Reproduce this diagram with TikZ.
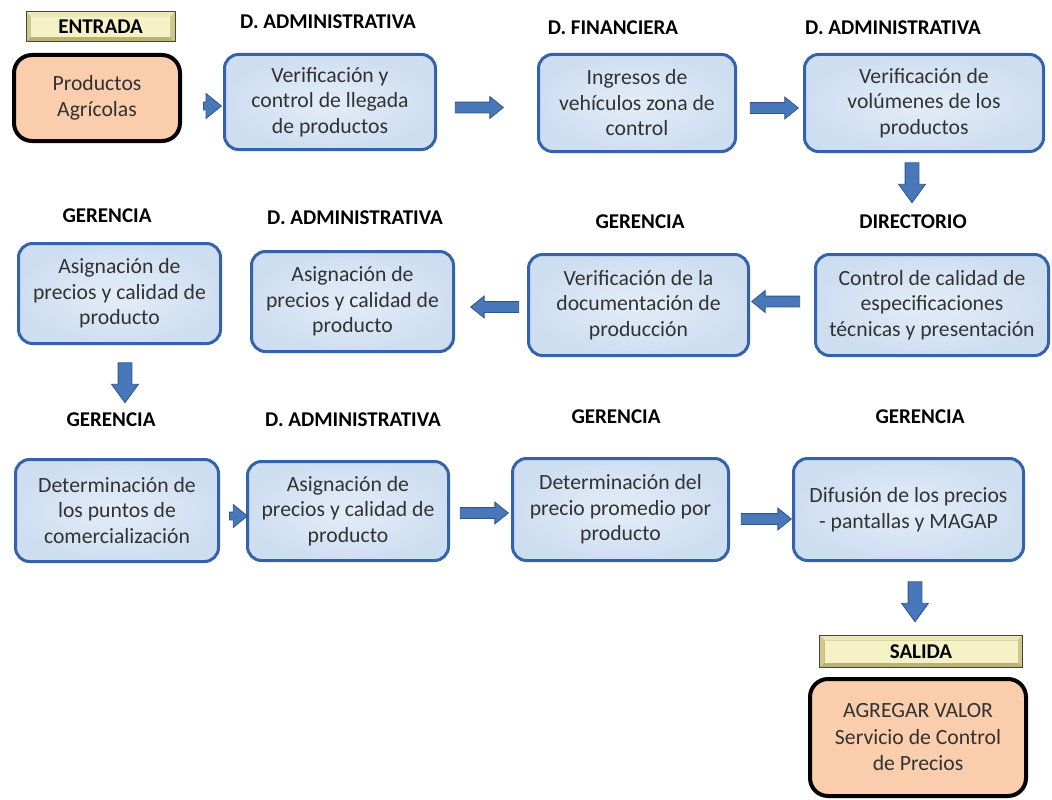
\documentclass[tikz,border=0pt]{standalone}
\usepackage{fontspec}
\setmainfont{Carlito}
\usetikzlibrary{shapes.arrows}

\definecolor{boxline}{RGB}{52,98,172}
\definecolor{boxin}{RGB}{228,237,248}
\definecolor{boxout}{RGB}{206,222,241}
\definecolor{ioorange}{RGB}{250,205,172}
\definecolor{arrowfill}{RGB}{72,120,186}
\definecolor{arrowline}{RGB}{48,84,136}
\definecolor{tagline}{RGB}{70,70,60}
\definecolor{tagface}{RGB}{246,242,200}
\definecolor{tagtop}{RGB}{236,232,182}
\definecolor{tagside}{RGB}{208,200,138}
\definecolor{tagbot}{RGB}{186,178,116}
\definecolor{bodytext}{RGB}{50,50,50}

\begin{document}
\begin{tikzpicture}[x=1pt,y=-1pt,
  proc/.style={draw=boxline, line width=3pt, rounded corners=14pt,
    inner color=boxin, outer color=boxout, align=center, text=bodytext,
    inner sep=0pt, font=\fontsize{21.7}{25.5}\selectfont},
  io/.style={draw=black, line width=4pt, rounded corners=18pt,
    fill=ioorange, align=center, text=bodytext, inner sep=0pt,
    font=\fontsize{21.7}{26.5}\selectfont},
  % bevelled label: flat face inset by 5pt, lighter top edge, darker sides and bottom
  tag/.style={draw=tagline, line width=1pt, fill=tagbot, inner sep=0pt,
    font=\bfseries\fontsize{21}{22}\selectfont,
    path picture={
      \path (path picture bounding box.north west) coordinate (tNW)
            (path picture bounding box.north east) coordinate (tNE)
            (path picture bounding box.south west) coordinate (tSW)
            (path picture bounding box.south east) coordinate (tSE);
      \fill[tagtop] (tNW) -- (tNE) -- ([shift={(-5pt,-5pt)}]tNE) -- ([shift={(5pt,-5pt)}]tNW) -- cycle;
      \fill[tagside] (tNW) -- ([shift={(5pt,-5pt)}]tNW) -- ([shift={(5pt,5pt)}]tSW) -- (tSW) -- cycle;
      \fill[tagside] (tNE) -- ([shift={(-5pt,-5pt)}]tNE) -- ([shift={(-5pt,5pt)}]tSE) -- (tSE) -- cycle;
      \fill[tagface] ([shift={(5pt,-5pt)}]tNW) rectangle ([shift={(-5pt,5pt)}]tSE);
    }},
  dept/.style={font=\bfseries\fontsize{21}{22}\selectfont},
  % block arrow: shaft width = 2 * inner ysep, empty text
  flow/.style={single arrow, draw=arrowline, fill=arrowfill, line width=0.8pt,
    inner xsep=0pt, text width=0pt},
  flowh/.style={flow, inner ysep=5pt, single arrow head extend=5.5pt,
    single arrow tip angle=78},
  flowv/.style={flow, inner ysep=6.5pt, single arrow head extend=6.5pt,
    single arrow tip angle=72, rotate=-90},
]
\useasboundingbox (0,0) rectangle (1052,800);

% ---- input ----
\node[tag, minimum width=149pt, minimum height=30pt] (entrada) at (100.5,27) {ENTRADA};
\node[io, minimum width=166pt, minimum height=86pt] (in) at (97,98) {Productos\\Agrícolas};

% ---- first row ----
\node[dept] (h1) at (328,22) {D. ADMINISTRATIVA};
\node[proc, minimum width=211pt, minimum height=95pt] (b1) at (330,102)
  {Verificación y\\control de llegada\\de productos};
\node[dept] (h2) at (613,28) {D. FINANCIERA};
\node[proc, minimum width=197pt, minimum height=97pt] (b2) at (637,103)
  {Ingresos de\\vehículos zona de\\control};
\node[dept] (h3) at (893,28) {D. ADMINISTRATIVA};
\node[proc, minimum width=239pt, minimum height=97pt] (b3) at (924,103)
  {Verificación de\\volúmenes de los\\productos};

% ---- second row ----
\node[dept] (h4) at (913,222) {DIRECTORIO};
\node[proc, minimum width=233pt, minimum height=101pt] (b4) at (932,305)
  {Control de calidad de\\especificaciones\\técnicas y presentación};
\node[dept] (h5) at (640,222) {GERENCIA};
\node[proc, minimum width=220pt, minimum height=101pt] (b5) at (638.5,305)
  {Verificación de la\\documentación de\\producción};
\node[dept] (h6) at (355,218) {D. ADMINISTRATIVA};
\node[proc, minimum width=202pt, minimum height=100pt] (b6) at (352.5,301.5)
  {Asignación de\\precios y calidad de\\producto};
\node[dept] (h7) at (107,216) {GERENCIA};
\node[proc, minimum width=202pt, minimum height=100pt] (b7) at (119.5,293.5)
  {Asignación de\\precios y calidad de\\producto};

% ---- third row ----
\node[dept] (h8) at (111,420) {GERENCIA};
\node[proc, minimum width=203pt, minimum height=102pt] (b8) at (117,510.5)
  {Determinación de\\los puntos de\\comercialización};
\node[dept] (h9) at (353,420) {D. ADMINISTRATIVA};
\node[proc, minimum width=201pt, minimum height=99pt] (b9) at (348,511)
  {Asignación de\\precios y calidad de\\producto};
\node[dept] (h10) at (616,417) {GERENCIA};
\node[proc, minimum width=216pt, minimum height=102pt] (b10) at (620.5,509.5)
  {Determinación del\\precio promedio por\\producto};
\node[dept] (h11) at (920,417) {GERENCIA};
\node[proc, minimum width=230pt, minimum height=102pt] (b11) at (908.5,509.5)
  {Difusión de los precios\\- pantallas y MAGAP};

% ---- output ----
\node[tag, minimum width=203pt, minimum height=32pt] (salida) at (921,651.5) {SALIDA};
\node[io, minimum width=216pt, minimum height=117pt] (out) at (918,737.5)
  {AGREGAR VALOR\\Servicio de Control\\de Precios};

% ---- block arrows between the steps ----
\node[flowh, minimum height=18pt, inner ysep=3.5pt, single arrow head extend=8.5pt] (a1) at (210,106) {};
\node[flowh, minimum height=48pt] (a2) at (476,107.5) {};
\node[flowh, minimum height=48pt] (a3) at (771,108) {};
\node[flowv, minimum height=40pt] (d1) at (912,178) {};
\node[flowh, minimum height=48pt, rotate=180] (l1) at (779,301.5) {};
\node[flowh, minimum height=48pt, rotate=180] (l2) at (498,307) {};
\node[flowv, minimum height=40pt] (d2) at (125,378) {};
\node[flowh, minimum height=18pt, inner ysep=3.5pt, single arrow head extend=7.5pt] (a4) at (236,516) {};
\node[flowh, minimum height=48pt] (a5) at (481,513) {};
\node[flowh, minimum height=50pt] (a6) at (763,519) {};
\node[flowv, minimum height=40pt] (d3) at (915,597) {};
\end{tikzpicture}
\end{document}
